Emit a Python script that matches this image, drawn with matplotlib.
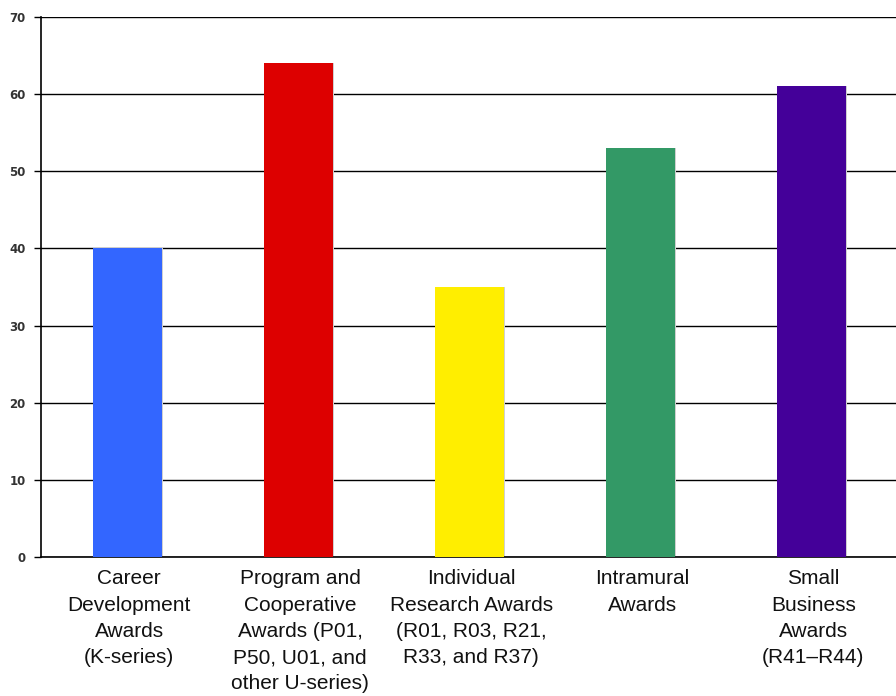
import matplotlib
matplotlib.use("Agg")
import matplotlib.pyplot as plt
import numpy as np

categories = [
    "Career\nDevelopment\nAwards\n(K-series)",
    "Program and\nCooperative\nAwards (P01,\nP50, U01, and\nother U-series)",
    "Individual\nResearch Awards\n(R01, R03, R21,\nR33, and R37)",
    "Intramural\nAwards",
    "Small\nBusiness\nAwards\n(R41\u2013R44)",
]
values = [40, 64, 35, 53, 61]
colors = ["#3366ff", "#dd0000", "#ffee00", "#339966", "#440099"]
yticks = [0, 10, 20, 30, 40, 50, 60, 70]

fig = plt.figure(figsize=(8.96, 6.96), dpi=100)
ax = fig.add_axes([41 / 896, 139 / 696, 855 / 896, 540 / 696])

x = np.arange(len(categories))
width = 0.40

ax.set_axisbelow(True)
ax.yaxis.grid(True, color="black", linewidth=1.0)
# soft shadow to the right of each bar
ax.bar(x + 0.014, values, width=width, color="#d0d0d0", zorder=2)
ax.bar(x + 0.005, values, width=width, color=colors, zorder=3)

ax.set_xlim(-0.5, len(categories) - 0.5)
ax.set_ylim(0, 70)
ax.set_yticks(yticks)
ax.set_yticklabels([str(t) for t in yticks], fontsize=8.5, color="#333333",
                   fontweight="bold", family="DejaVu Sans")
ax.tick_params(axis="y", length=5, width=1, color="black", pad=6)

ax.set_xticks(x + 0.016)
ax.set_xticklabels(categories, fontsize=15, family="Liberation Sans",
                   linespacing=1.48, va="top", color="#111111")
ax.tick_params(axis="x", length=0, pad=9)

for side in ["top", "right"]:
    ax.spines[side].set_visible(False)
ax.spines["left"].set_linewidth(1.2)
ax.spines["bottom"].set_linewidth(1.2)

fig.savefig("out.png", dpi=100)
